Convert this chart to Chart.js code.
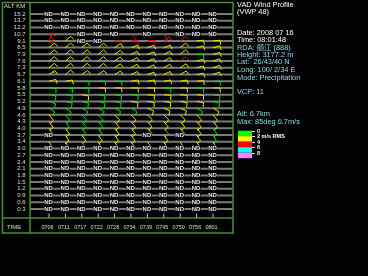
<!DOCTYPE html>
<html>
<head>
<meta charset="utf-8">
<script src="https://cdn.jsdelivr.net/npm/chart.js@4/dist/chart.umd.min.js"></script>
<style>
  html, body { margin: 0; padding: 0; background: #000; }
  canvas { display: block; }
</style>
</head>
<body>
<canvas id="vwp" width="368" height="276"></canvas>
<script>
// ─── VAD Wind Profile (VWP 48) — barbs drawn on Chart.js scales ──────────────

const ALT_KM = ['15.2','13.7','12.2','10.7','9.1','8.5','7.9','7.6','7.3','6.7',
                '6.1','5.8','5.5','5.2','4.9','4.6','4.3','4.0','3.7','3.4',
                '3.0','2.7','2.4','2.1','1.8','1.5','1.2','0.9','0.6','0.3'];
const TIMES  = ['0706','0711','0717','0722','0728','0734','0739','0745','0750','0756','0801'];

// N = no data ("ND"), E = empty cell
const N = null, E = -1;

// wind direction (deg), one row per altitude, one entry per time
const WDIR = [
  [N,N,N,N,N,N,N,N,N,N,N],
  [N,N,N,N,N,N,N,N,N,N,N],
  [N,N,N,N,N,N,N,N,N,N,N],
  [140,E,N,N,N,135,N,145,N,N,N],
  [25,50,N,N,90,90,85,55,50,85,85],
  [50,50,50,50,55,70,70,70,50,75,75],
  [50,50,50,50,55,65,70,65,50,90,75],
  [50,50,50,50,55,60,70,60,50,75,70],
  [50,50,50,50,55,60,65,60,55,75,70],
  [55,50,55,55,60,65,70,65,60,80,70],
  [75,80,90,90,90,80,80,80,80,85,90],
  [95,95,95,90,90,90,90,95,90,95,90],
  [100,100,100,100,100,95,95,95,95,95,100],
  [110,105,105,105,105,100,100,100,100,100,105],
  [125,125,120,120,120,120,115,115,115,120,120],
  [140,140,135,135,135,135,135,135,135,135,140],
  [145,145,140,140,140,140,140,140,140,140,140],
  [145,145,145,145,140,140,140,140,140,140,145],
  [N,150,145,145,145,145,N,145,N,145,150],
  [150,150,150,150,150,145,145,150,150,150,150],
  [N,N,N,N,N,N,N,N,N,N,N],
  [N,N,N,N,N,N,N,N,N,N,N],
  [N,N,N,N,N,N,N,N,N,N,N],
  [N,N,N,N,N,N,N,N,N,N,N],
  [N,N,N,N,N,N,N,N,N,N,N],
  [N,N,N,N,N,N,N,N,N,N,N],
  [N,N,N,N,N,N,N,N,N,N,N],
  [N,N,N,N,N,N,N,N,N,N,N],
  [N,N,N,N,N,N,N,N,N,N,N],
  [N,N,N,N,N,N,N,N,N,N,N],
];

// wind speed (m/s)
const WSPD = [
  [], [], [],
  [6,0,0,0,0,6,0,6,0,0,0],
  [6,6,0,0,5,5,5,6,6,6,6],
  [6,6,6,6,6,6,6,6,6,6,6],
  [6,6,6,6,6,6,6,6,6,5,6],
  [6,6,6,6,6,6,6,6,6,6,6],
  [6,6,6,6,6,6,6,6,6,6,6],
  [6.7,6,6,6,6,6,6,6,6,6,6],
  [5,5,5,5,5,5,5,5,5,5,5],
  [5,5,5,5,5,5,5,5,5,5,5],
  [5,5,5,5,5,5,5,5,5,5,5],
  [5,5,5,5,5,5,5,5,5,5,5],
  [5,5,5,5,5,5,5,5,5,5,5],
  [5,5,5,5,5,5,5,5,5,5,5],
  [5,5,5,5,5,5,5,5,5,5,5],
  [5,5,5,5,5,5,5,5,5,5,5],
  [0,5,5,5,5,5,0,5,0,5,5],
  [5,5,5,5,5,5,5,5,5,5,5],
];

// RMS class: 0 green (0-2), 1 yellow (2-4), 2 red (4-6), 3 cyan (6-8), 4 magenta (8+)
const WRMS = [
  [], [], [],
  [2,E,N,N,N,2,N,2,N,N,N],
  [2,1,N,N,2,2,2,2,2,1,1],
  [1,1,1,1,1,1,1,1,1,1,1],
  [1,1,1,1,1,1,1,1,1,0,1],
  [1,1,1,1,1,1,1,1,2,1,1],
  [1,1,1,1,1,1,1,1,1,1,1],
  [1,1,1,1,1,1,1,1,1,1,1],
  [1,1,0,0,0,1,1,1,1,1,0],
  [0,0,0,1,1,1,1,0,1,0,1],
  [0,0,1,0,0,0,1,1,1,1,0],
  [0,0,0,0,0,1,1,1,1,1,0],
  [0,0,0,0,0,0,1,1,1,0,1],
  [1,0,0,0,1,1,1,1,1,1,1],
  [1,0,0,0,1,1,1,1,1,1,1],
  [1,1,0,0,1,1,1,0,1,1,0],
  [N,1,1,1,1,1,N,1,N,1,0],
  [1,1,0,1,1,1,1,1,1,1,1],
];

const RMS_COLORS = ['#00e800', '#e8e800', '#e80000', '#00e8e8', '#f080f0'];
const KEY_COLORS = ['#00ff00', '#ffff00', '#ff0000', '#00ffff', '#ff80ff'];
const RMS_LEGEND = ['0', '2 m/s RMS', '4', '6', '8'];

const FRAME = '#4a8c3c';
const LABEL = '#cfe0c8';
const CYAN  = '#8cdcea';
const FONT  = '"Liberation Sans", "Noto Sans CJK SC", sans-serif';

// cells → scatter points (x = time index, y = altitude row index)
const cells = [];
ALT_KM.forEach((_, r) => {
  TIMES.forEach((_, c) => {
    const d = WDIR[r][c];
    if (d === E) return;
    cells.push({ x: c, y: r, dir: d, spd: (WSPD[r] || [])[c] || 0, rms: d === N ? N : WRMS[r][c] });
  });
});

function drawBarb(ctx, x, y, dir, spd, color) {
  const L = 7, F = 4.5;
  const a = dir * Math.PI / 180, f = (dir + 85) * Math.PI / 180;
  const ux = Math.sin(a), uy = -Math.cos(a);
  const fx = Math.sin(f), fy = -Math.cos(f);
  const tx = x + ux * L, ty = y + uy * L;
  ctx.strokeStyle = color;
  ctx.lineWidth = 1;
  ctx.beginPath();
  ctx.moveTo(x, y); ctx.lineTo(tx, ty);
  let n5 = Math.round(spd * 1.944 / 5), pos = 0;
  while (n5 >= 2) {
    const px = tx - ux * pos, py = ty - uy * pos;
    ctx.moveTo(px, py); ctx.lineTo(px + fx * F, py + fy * F);
    n5 -= 2; pos += 2;
  }
  if (n5 === 1) {
    const px = tx - ux * pos, py = ty - uy * pos;
    ctx.moveTo(px, py); ctx.lineTo(px + fx * F / 2, py + fy * F / 2);
  }
  ctx.stroke();
}

const vwpPlugin = {
  id: 'vwp',
  beforeDatasetsDraw(chart) {
    const { ctx, chartArea: ca, scales: { x, y } } = chart;
    ctx.save();
    // altitude gridlines
    ctx.strokeStyle = '#7a7a7a';
    ctx.lineWidth = 2;
    ALT_KM.forEach((_, r) => {
      const py = y.getPixelForValue(r);
      ctx.beginPath(); ctx.moveTo(ca.left, py); ctx.lineTo(ca.right, py); ctx.stroke();
    });
    // frame
    ctx.strokeStyle = FRAME;
    ctx.lineWidth = 1.5;
    ctx.strokeRect(2.5, 2.5, ca.right - 2.5, 230.5);
    ctx.beginPath();
    ctx.moveTo(ca.left, 2.5); ctx.lineTo(ca.left, 233);
    ctx.moveTo(2.5, ca.bottom); ctx.lineTo(ca.right, ca.bottom);
    ctx.stroke();
    // time ticks + labels
    ctx.strokeStyle = '#b8d8a8';
    ctx.lineWidth = 1;
    ctx.fillStyle = LABEL;
    ctx.font = '5.5px ' + FONT;
    ctx.textAlign = 'center';
    ctx.textBaseline = 'middle';
    TIMES.forEach((t, c) => {
      const px = x.getPixelForValue(c);
      ctx.beginPath(); ctx.moveTo(px, ca.bottom - 4.5); ctx.lineTo(px, ca.bottom - 0.5); ctx.stroke();
      ctx.fillText(t, px - 1.5, 227);
    });
    // altitude labels
    ctx.font = '6px ' + FONT;
    ctx.textAlign = 'right';
    ALT_KM.forEach((a, r) => ctx.fillText(a, 25.5, y.getPixelForValue(r)));
    ctx.textAlign = 'left';
    ctx.fillText('ALT KM', 4, 6.5);
    ctx.fillText('TIME', 7, 227);
    ctx.restore();
  },
  afterDatasetsDraw(chart) {
    const { ctx } = chart;
    const meta = chart.getDatasetMeta(0);
    ctx.save();
    ctx.font = 'bold 6px ' + FONT;
    ctx.textAlign = 'center';
    ctx.textBaseline = 'middle';
    meta.data.forEach((el, i) => {
      const d = cells[i];
      if (d.dir === N) {
        ctx.lineWidth = 1.5;
        ctx.strokeStyle = '#000';
        ctx.strokeText('ND', el.x - 0.5, el.y);
        ctx.fillStyle = '#e4e4e4';
        ctx.fillText('ND', el.x - 0.5, el.y);
      } else {
        drawBarb(ctx, el.x, el.y, d.dir, d.spd, RMS_COLORS[d.rms]);
      }
    });
    ctx.restore();
  },
  afterDraw(chart) {
    const { ctx } = chart;
    ctx.save();
    ctx.textAlign = 'left';
    ctx.textBaseline = 'middle';
    ctx.font = '7.4px ' + FONT;
    const lines = [
      ['VAD Wind Profile', 4.8, '#fff'],
      ['(VWP 48)', 12, '#fff'],
      ['Date: 2008 07 16', 33.3, '#fff'],
      ['Time: 08:01:48', 40.4, '#fff'],
      ['RDA: 丽江 (888)', 47.7, CYAN],
      ['Height: 3177.2 m', 55, CYAN],
      ['Lat:  26/43/40 N', 62.3, CYAN],
      ['Long: 100/ 2/34 E', 70, CYAN],
      ['Mode: Precipitation', 77.7, CYAN],
      ['VCP: 11', 91.7, CYAN],
      ['Alt: 6.7km', 114, CYAN],
      ['Max: 85deg 6.7m/s', 121.7, CYAN],
    ];
    lines.forEach(([t, py, col]) => { ctx.fillStyle = col; ctx.fillText(t, 237, py); });

    // RMS colour key
    const top = 130.7, band = 5.5;
    ctx.font = 'bold 5.5px ' + FONT;
    KEY_COLORS.forEach((col, i) => {
      ctx.fillStyle = col;
      ctx.fillRect(238, top + i * band, 14, band);
    });
    ctx.strokeStyle = '#ddd';
    ctx.lineWidth = 1;
    ctx.fillStyle = '#fff';
    RMS_LEGEND.forEach((t, i) => {
      const py = Math.round(top + i * band) + 0.5;
      ctx.beginPath(); ctx.moveTo(252, py); ctx.lineTo(255, py); ctx.stroke();
      ctx.fillText(t, 257, py);
    });
    ctx.restore();
  },
};

new Chart(document.getElementById('vwp'), {
  type: 'scatter',
  data: { datasets: [{ data: cells, pointRadius: 0, pointHoverRadius: 0 }] },
  options: {
    responsive: false,
    animation: false,
    events: [],
    layout: { padding: { left: 30, right: 135, top: 3, bottom: 58 } },
    plugins: { legend: { display: false }, tooltip: { enabled: false } },
    scales: {
      x: { type: 'linear', display: false, min: -1.1585, max: 11.22 },
      y: { type: 'linear', display: false, reverse: true, min: -1.636, max: 30.339 },
    },
  },
  plugins: [vwpPlugin],
});
</script>
</body>
</html>
